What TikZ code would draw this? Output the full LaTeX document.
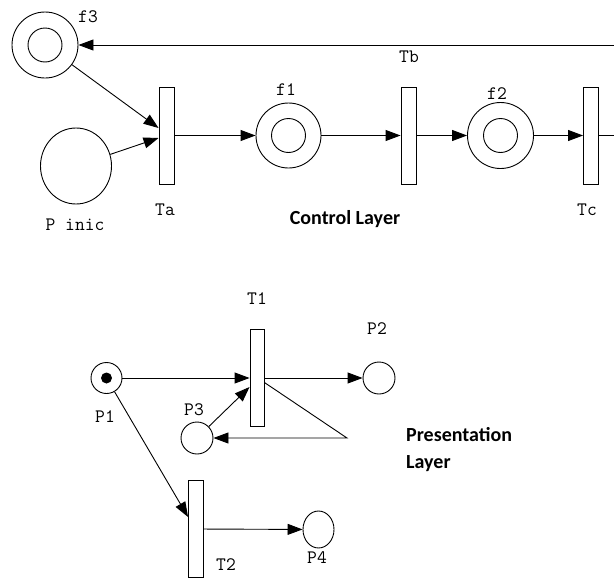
\documentclass[tikz,border=0pt]{standalone}
\usepackage{fontspec}
\newfontfamily\layerfont{Carlito}
\usetikzlibrary{arrows.meta,positioning,calc,shapes.geometric}

\tikzset{
  place/.style={circle,draw,line width=0.9pt,inner sep=0pt,minimum size=32pt},
  fplace/.style={place,minimum size=66pt,
    path picture={\draw[line width=0.9pt] (path picture bounding box.center) circle (17pt);}},
  marked/.style={place,minimum size=31pt,
    path picture={\fill (path picture bounding box.center) circle (5.5pt);}},
  oval/.style={ellipse,draw,line width=0.9pt,inner sep=0pt},
  trans/.style={rectangle,draw,line width=0.9pt,inner sep=0pt,minimum width=15pt,minimum height=97pt},
  arc/.style={line width=0.9pt,-{Triangle[length=15pt,width=11pt]}},
  lbl/.style={font=\ttfamily\fontsize{19}{19}\selectfont,inner sep=0pt},
  layer/.style={font=\layerfont\bfseries\fontsize{20}{27}\selectfont,inner sep=0pt,align=left}
}

\begin{document}
\begin{tikzpicture}[x=1pt,y=-1pt]
\useasboundingbox (0,0) rectangle (614,581);

% control layer
\node[fplace] (f3) at (45,45) {};
\node[oval,minimum width=71pt,minimum height=76pt] (Pinic) at (76,166) {};
\node[trans] (Ta) at (166.5,135.5) {};
\node[fplace,minimum size=65pt] (f1) at (288.5,135.5) {};
\node[trans] (Tb) at (408.5,135.5) {};
\node[fplace] (f2) at (500.5,135.5) {};
\node[trans] (Tc) at (591,135.5) {};
\coordinate (topright) at (614,45);
\coordinate (midright) at (614,135.5);

\node[lbl] (lf3) at (88,17) {f3};
\node[lbl] (lPinic) at (75,225) {P inic};
\node[lbl] (lTa) at (165,210) {Ta};
\node[lbl] (lf1) at (286,90) {f1};
\node[lbl] (lTb) at (409,57) {Tb};
\node[lbl] (lf2) at (497,94) {f2};
\node[lbl] (lTc) at (587,210) {Tc};
\node[layer,anchor=base] (ctrl) at (345,224) {Control Layer};

\draw[arc] (topright) -- (f3);
\draw[arc] (f3) -- ($(Ta.west)+(0,-7.5)$);
\draw[arc] (Pinic) -- ($(Ta.west)+(0,2.5)$);
\draw[arc] (Ta) -- (f1);
\draw[arc] (f1) -- (Tb);
\draw[arc] (Tb) -- (f2);
\draw[arc] (f2) -- (Tc);
\draw[line width=0.9pt] (Tc) -- (midright);

% presentation layer
\node[marked] (P1) at (106.5,378) {};
\node[trans,minimum width=14pt] (T1) at (257,377.5) {};
\node[place] (P2) at (379,378) {};
\node[place] (P3) at (197,438) {};
\node[trans] (T2) at (196,529) {};
\node[oval,minimum width=31pt,minimum height=37pt] (P4) at (318.5,529.5) {};
\coordinate (bend) at (347,438);

\node[lbl] (lT1) at (257,299) {T1};
\node[lbl] (lP2) at (377,329) {P2};
\node[lbl] (lP1) at (105,417) {P1};
\node[lbl] (lP3) at (194,410) {P3};
\node[lbl] (lT2) at (226,565) {T2};
\node[lbl] (lP4) at (317,558) {P4};
\node[layer,anchor=north west] (pres) at (406,427) {Presentation\\Layer};

\draw[arc] (P1) -- (P1 -| T1.west);
\draw[arc] (T1.east |- P2) -- (P2);
\draw[arc] ($(T1.east)+(0,5)$) -- (bend) -- (P3);
\draw[arc] (P3) -- ($(T1.west)+(0,9.5)$);
\draw[arc] (P1) -- ($(T2.west)+(0,-12)$);
\draw[arc] (T2) -- (P4);
\end{tikzpicture}
\end{document}
